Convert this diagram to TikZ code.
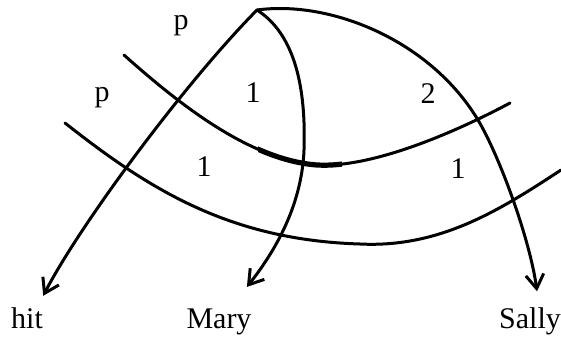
\documentclass[tikz,border=0pt]{standalone}
\usepackage{fontspec}
\setmainfont{Liberation Serif}
\usepackage{tikz}
\usetikzlibrary{arrows,arrows.meta,positioning,calc}

\tikzset{
    edge/.style={line width=1.5pt, line cap=round, line join=round},
    branch/.style={edge, -{Straight Barb[length=7pt,width=9pt]}},
    word/.style={font=\fontsize{15}{18}\selectfont, inner sep=0pt, anchor=base},
    arclabel/.style={font=\fontsize{15}{18}\selectfont, inner sep=0pt}
}

\begin{document}
\begin{tikzpicture}[x=0.5pt, y=-0.5pt]
    \useasboundingbox (0,0) rectangle (561,338);

    % Root and words
    \coordinate (root) at (257,10);
    \node[word] (hit) at (27,328) {hit};
    \node[word] (mary) at (219,328) {Mary};
    \node[word] (sally) at (530,328) {Sally};

    % Branches from the root
    \draw[branch] (root) .. controls (182,86) and (78,228) .. ([yshift=5.5pt]hit.north east);
    \draw[branch] (root) .. controls (296,35) and (306,90) .. (304,150) .. controls (302,200) and (280,245) .. ([xshift=-2.5pt,yshift=10.5pt]mary.north east);
    \draw[branch] (root) .. controls (330,0) and (430,40) .. (478,120) .. controls (500,157) and (530,240) .. ([xshift=3.5pt,yshift=7.75pt]sally.north);

    % Crossing arcs
    \draw[edge] (124,55) .. controls (180,105) and (250,160) .. (317,165) .. controls (370,168) and (450,135) .. (510,103);
    \draw[edge] (65,123) .. controls (150,190) and (230,240) .. (360,244) .. controls (440,248) and (500,210) .. (561,170);

    % heavier stroke in the middle of the upper arc
    \begin{scope}
        \clip (258,140) rectangle (342,180);
        \draw[edge, line width=2.6pt] (124,55) .. controls (180,105) and (250,160) .. (317,165) .. controls (370,168) and (450,135) .. (510,103);
    \end{scope}

    % Region labels
    \node[arclabel] (pTop) at (181,26) {p};
    \node[arclabel] (pLow) at (102,98) {p};
    \node[arclabel] (oneA) at (253,93) {1};
    \node[arclabel] (twoA) at (428,94) {2};
    \node[arclabel] (oneB) at (204,167) {1};
    \node[arclabel] (oneC) at (458,169) {1};
\end{tikzpicture}
\end{document}
